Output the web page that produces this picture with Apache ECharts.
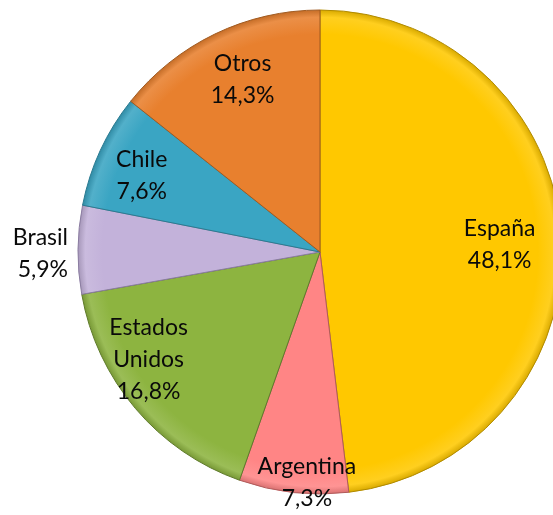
<!DOCTYPE html>
<html>
<head>
<meta charset="utf-8">
<script src="https://cdn.jsdelivr.net/npm/echarts@6/dist/echarts.min.js"></script>
<style>html,body{margin:0;padding:0;background:#fff;}#c{width:553px;height:515px;}</style>
</head>
<body>
<div id="c"></div>
<script>
const categories = ["España", "Argentina", "Estados Unidos", "Brasil", "Chile", "Otros"];
const values = [48.1, 7.3, 16.8, 5.9, 7.6, 14.3];
const colors = ["#FFC800", "#FF8585", "#8DB440", "#C3B2DA", "#3AA5C3", "#E8802E"];
const borders = ["#B08A00", "#B05A5A", "#5E7A2A", "#8A7CA0", "#2A7A90", "#A05A20"];

function lighten(hex, f) {
  const n = parseInt(hex.slice(1), 16);
  let r = (n >> 16) & 255, g = (n >> 8) & 255, b = n & 255;
  r = Math.round(r + (255 - r) * f); g = Math.round(g + (255 - g) * f); b = Math.round(b + (255 - b) * f);
  return "rgb(" + r + "," + g + "," + b + ")";
}
function darken(hex, f) {
  const n = parseInt(hex.slice(1), 16);
  let r = (n >> 16) & 255, g = (n >> 8) & 255, b = n & 255;
  return "rgb(" + Math.round(r * (1 - f)) + "," + Math.round(g * (1 - f)) + "," + Math.round(b * (1 - f)) + ")";
}

const fmt = p => p.name.replace(" ", "\n") + "\n" + p.value.toFixed(1).replace(".", ",") + "%";

const center = [320, 252];
const R = 242;

const mainData = categories.map((c, i) => ({
  name: c, value: values[i],
  itemStyle: {
    color: {
      type: "radial", x: center[0], y: center[1], r: R, global: true,
      colorStops: [
        { offset: 0, color: colors[i] },
        { offset: 0.9, color: colors[i] },
        { offset: 0.97, color: lighten(colors[i], 0.12) },
        { offset: 1, color: darken(colors[i], 0.15) }
      ]
    },
    borderColor: borders[i]
  }
}));

const labelOffsets = {
  "España": [-12, 4],
  "Otros": [6, 1],
  "Chile": [-4, 4],
  "Estados Unidos": [-25, -17],
  "Argentina": [8, 40]
};

const labelData = categories.map((c, i) => {
  const d = { name: c, value: values[i] };
  if (c === "Brasil") {
    d.label = { position: "outside", align: "center", offset: [0, 4] };
    d.labelLine = { show: false, length: 5, length2: 0 };
  } else if (labelOffsets[c]) {
    d.label = { offset: labelOffsets[c] };
  }
  return d;
});

const chart = echarts.init(document.getElementById("c"), null, { renderer: "canvas" });
chart.setOption({
  animation: false,
  series: [
    {
      type: "pie", center: center, radius: [0, R], startAngle: 90, clockwise: true,
      silent: true, label: { show: false }, labelLine: { show: false },
      itemStyle: { borderWidth: 1 },
      data: mainData
    },
    {
      type: "pie", center: center, radius: [136, R], startAngle: 90, clockwise: true,
      silent: true,
      itemStyle: { color: "rgba(0,0,0,0)", borderWidth: 0 },
      label: {
        show: true, position: "inside", formatter: fmt,
        fontFamily: "Lato", fontSize: 23, lineHeight: 32, color: "#0a0a0a",
        align: "center"
      },
      labelLine: { show: false },
      data: labelData
    }
  ]
});
</script>
</body>
</html>
